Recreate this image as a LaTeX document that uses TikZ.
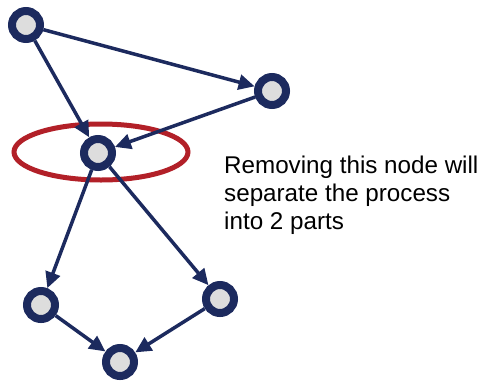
\documentclass[tikz,border=0pt]{standalone}
\usepackage{fontspec}
\setmainfont{Liberation Sans}
\usetikzlibrary{arrows.meta}
\definecolor{navy}{RGB}{28,42,94}
\definecolor{nodefill}{RGB}{221,221,221}
\definecolor{ringred}{RGB}{178,32,40}
\begin{document}
\begin{tikzpicture}[x=1pt,y=-1pt,
  vert/.style={circle,draw=navy,fill=nodefill,line width=8pt,minimum size=28pt,inner sep=0pt},
  link/.style={draw=navy,line width=3.5pt,-{Triangle[length=16pt,width=15pt]}},
  ring/.style={draw=ringred,line width=5pt}]
\useasboundingbox (0,0) rectangle (486,383);
\node[vert] (a) at (26,25) {};
\node[vert] (b) at (272,91) {};
\node[vert] (c) at (98,153) {};
\node[vert] (d) at (41,305) {};
\node[vert] (e) at (220,299) {};
\node[vert] (f) at (120,362) {};
\draw[ring] (101,152) ellipse [x radius=87, y radius=28];
\draw[link] (a) -- (b);
\draw[link] (a) -- (c);
\draw[link] (b) -- (c);
\draw[link] (c) -- (d);
\draw[link] (c) -- (e);
\draw[link] (d) -- (f);
\draw[link] (e) -- (f);
\node[anchor=base west,align=left,inner sep=0pt,font=\fontsize{24.2}{28}\selectfont] (t) at (224,229) {Removing this node will\\separate the process\\into 2 parts};
\end{tikzpicture}
\end{document}
